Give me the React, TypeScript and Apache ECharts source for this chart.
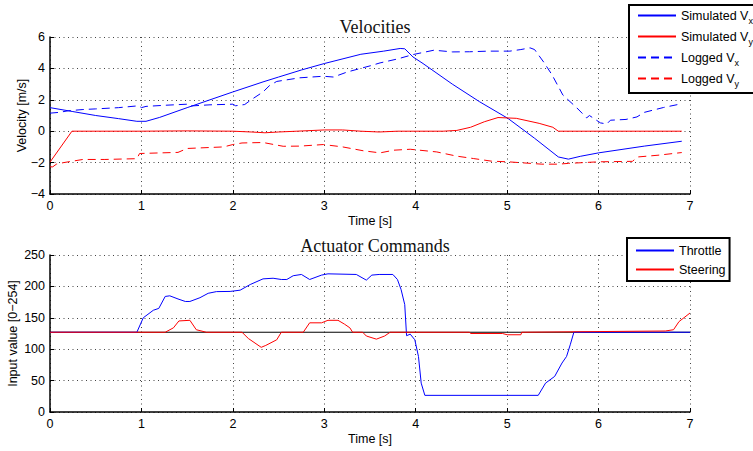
import React, { useEffect, useRef } from "react";
import * as echarts from "echarts";

// ---- Velocities (top) ----
const simVxT = [0, 0.25, 0.5, 0.75, 0.95, 1.05, 1.2, 1.5, 1.75, 2.0, 2.33, 2.5, 2.75, 3.0, 3.4, 3.65, 3.83, 3.88, 3.97, 4.08, 4.4, 4.7, 5.01, 5.3, 5.56, 5.67, 5.8, 6.0, 6.5, 6.91];
const simVxV = [1.5, 1.25, 1.0, 0.8, 0.63, 0.63, 0.88, 1.5, 2.0, 2.5, 3.14, 3.45, 3.9, 4.31, 4.9, 5.1, 5.27, 5.25, 4.73, 4.31, 3.0, 1.87, 0.81, -0.45, -1.64, -1.78, -1.6, -1.38, -0.95, -0.64];

const simVyT = [0, 0.24, 1.0, 1.5, 2.0, 2.2, 2.35, 2.5, 2.7, 3.0, 3.2, 3.4, 3.6, 3.8, 4.3, 4.45, 4.6, 4.75, 4.9, 5.1, 5.35, 5.5, 5.56, 6.91];
const simVyV = [-1.97, 0, 0, 0.02, 0, -0.05, -0.1, -0.05, 0, 0.08, 0.08, 0, -0.05, 0, 0, 0.05, 0.25, 0.6, 0.87, 0.82, 0.5, 0.25, 0, 0];

const logVxT = [0, 0.1, 0.2, 0.36, 0.5, 0.75, 0.97, 1.0, 1.05, 1.25, 1.5, 1.52, 1.75, 2.0, 2.03, 2.13, 2.2, 2.33, 2.4, 2.48, 2.73, 2.99, 3.1, 3.25, 3.5, 3.61, 3.8, 3.97, 4.2, 4.4, 4.59, 4.8, 5.03, 5.15, 5.25, 5.3, 5.4, 5.49, 5.61, 5.76, 5.87, 5.9, 6.02, 6.09, 6.13, 6.3, 6.42, 6.5, 6.71, 6.91];
const logVxV = [1.15, 1.2, 1.3, 1.38, 1.42, 1.5, 1.62, 1.5, 1.58, 1.65, 1.72, 1.6, 1.68, 1.72, 1.62, 1.7, 2.0, 2.5, 2.9, 3.17, 3.4, 3.5, 3.45, 3.77, 4.16, 4.35, 4.6, 4.88, 5.16, 5.05, 5.06, 5.1, 5.1, 5.2, 5.31, 5.2, 4.4, 3.6, 2.3, 1.5, 0.85, 1.0, 0.53, 0.46, 0.7, 0.75, 0.91, 1.2, 1.51, 1.75];

const logVyT = [0, 0.03, 0.07, 0.15, 0.36, 0.6, 0.95, 0.98, 1.4, 1.5, 1.9, 2.0, 2.1, 2.33, 2.55, 2.73, 2.99, 3.2, 3.43, 3.61, 3.76, 3.94, 4.23, 4.45, 4.63, 4.83, 5.01, 5.38, 5.56, 5.67, 6.0, 6.37, 6.43, 6.65, 6.91];
const logVyV = [-2.27, -2.27, -2.1, -2.0, -1.8, -1.8, -1.75, -1.42, -1.35, -1.1, -1.0, -0.85, -0.75, -0.72, -0.96, -0.95, -0.85, -1.0, -1.25, -1.38, -1.21, -1.15, -1.32, -1.59, -1.74, -1.91, -1.95, -2.1, -2.1, -2.05, -1.95, -1.92, -1.64, -1.53, -1.36];

// ---- Actuator Commands (bottom) ----
const throttleT = [0, 0.95, 1.02, 1.13, 1.19, 1.26, 1.31, 1.4, 1.48, 1.53, 1.64, 1.73, 1.82, 1.97, 2.08, 2.19, 2.33, 2.44, 2.53, 2.59, 2.66, 2.75, 2.84, 2.97, 3.04, 3.35, 3.46, 3.52, 3.6, 3.75, 3.8, 3.84, 3.88, 3.9, 3.94, 3.99, 4.03, 4.06, 4.1, 5.34, 5.42, 5.52, 5.6, 5.65, 5.69, 5.73, 7.0];
const throttleV = [127, 127, 150, 162, 165, 184, 185, 180, 176, 176, 182, 189, 191.7, 192, 194, 203, 212, 213, 211, 211, 217, 219, 211, 218, 220, 219, 210, 218, 219, 219, 211, 195, 171, 121.5, 124, 115, 88.5, 46, 26.5, 26.5, 46, 56.7, 78, 88.5, 107, 127, 127];

const steeringT = [0, 1.26, 1.35, 1.41, 1.53, 1.6, 1.71, 2.1, 2.17, 2.31, 2.36, 2.48, 2.53, 2.77, 2.84, 2.97, 3.04, 3.15, 3.22, 3.28, 3.31, 3.42, 3.46, 3.57, 3.66, 3.72, 4.59, 4.6, 4.95, 5.0, 5.15, 5.16, 6.73, 6.82, 6.88, 7.0];
const steeringV = [127, 127, 134, 145, 146, 131, 127, 127, 117, 103, 106, 115, 127, 127, 142, 142, 146, 146, 140, 134, 127, 127, 121, 116, 121, 127, 127, 125, 125, 123, 123, 127, 129, 131, 144, 157.6];

const neutralT = [0, 7];
const neutralV = [127, 127];

const topSeriesNames = ["Simulated Vx", "Simulated Vy", "Logged Vx", "Logged Vy"];
const bottomSeriesNames = ["Throttle", "Steering"];
const titles = ["Velocities", "Actuator Commands"];

const pairs = (t: number[], v: number[]) => t.map((x, i) => [x, v[i]]);

const SANS = "Liberation Sans, Arial, sans-serif";
const SERIF = "Liberation Serif, DejaVu Serif, serif";

const minusFmt = (v: number) => (v < 0 ? "\u2212" + Math.abs(v) : String(v));

function makeXAxis(gridIndex: number) {
  return {
    gridIndex,
    type: "value",
    min: 0,
    max: 7,
    interval: 1,
    name: "Time [s]",
    nameLocation: "middle",
    nameGap: 20,
    nameMoveOverlap: false,
    nameTextStyle: { fontFamily: SANS, fontSize: 12.5, color: "#000" },
    axisLine: { show: true, onZero: false, lineStyle: { color: "#000", width: 1.5 } },
    axisTick: { show: true, inside: true, length: 4, lineStyle: { color: "#000", width: 1 } },
    axisLabel: { fontFamily: SANS, fontSize: 12.5, color: "#000", margin: 5 },
    splitLine: { show: true, lineStyle: { type: [1, 3.5], color: "#444", width: 1 } },
  };
}

function makeYAxis(gridIndex: number, min: number, max: number, interval: number, name: string, nameGap: number) {
  return {
    gridIndex,
    type: "value",
    min,
    max,
    interval,
    name,
    nameLocation: "middle",
    nameGap,
    nameMoveOverlap: false,
    nameTextStyle: { fontFamily: SANS, fontSize: 12.5, color: "#000" },
    axisLine: { show: true, onZero: false, lineStyle: { color: "#000", width: 1.5 } },
    axisTick: { show: true, inside: true, length: 4, lineStyle: { color: "#000", width: 1 } },
    axisLabel: { fontFamily: SANS, fontSize: 12.5, color: "#000", margin: 5, formatter: minusFmt },
    splitLine: { show: true, lineStyle: { type: [1, 3.5], color: "#444", width: 1 } },
  };
}

const subFmt = (name: string) => {
  const m = name.match(/^(.*V)([xy])$/);
  return m ? `${m[1]}{sub|${m[2]}}` : name;
};

const hiddenSymbol = { color: "transparent", borderColor: "transparent", borderWidth: 0, opacity: 0 };

export default function App() {
  const ref = useRef<HTMLDivElement>(null);
  useEffect(() => {
    if (!ref.current) return;
    const chart = echarts.init(ref.current, undefined, { renderer: "svg" });
    const dash = [8, 5];
    const option: any = {
      animation: false,
      backgroundColor: "#fff",
      title: [
        { text: titles[0], left: 370, top: 13, textAlign: "center", textStyle: { fontFamily: SERIF, fontSize: 18, fontWeight: "normal", color: "#111" } },
        { text: titles[1], left: 370, top: 232, textAlign: "center", textStyle: { fontFamily: SERIF, fontSize: 18, fontWeight: "normal", color: "#111" } },
      ],
      grid: [
        { left: 50, top: 37, width: 640, height: 157, outerBoundsMode: "none", containLabel: false },
        { left: 50, top: 255, width: 640, height: 157, outerBoundsMode: "none", containLabel: false },
      ],
      xAxis: [makeXAxis(0), makeXAxis(1)],
      yAxis: [
        makeYAxis(0, -4, 6, 2, "Velocity [m/s]", 22),
        makeYAxis(1, 0, 250, 50, "Input value [0\u2212254]", 31),
      ],
      legend: [
        {
          data: topSeriesNames,
          left: 629,
          top: 5,
          orient: "vertical",
          itemWidth: 38,
          itemHeight: 14,
          itemGap: 5,
          padding: [4, 20, 5, 8],
          borderColor: "#000",
          borderWidth: 2,
          backgroundColor: "#fff",
          formatter: subFmt,
          selectedMode: false,
          itemStyle: hiddenSymbol,
          textStyle: {
            fontFamily: SANS,
            fontSize: 12.5,
            color: "#000",
            rich: { sub: { fontFamily: SANS, fontSize: 9, color: "#000", padding: [10, 0, 0, 0] } },
          },
        },
        {
          data: bottomSeriesNames,
          left: 627,
          top: 238,
          orient: "vertical",
          itemWidth: 38,
          itemHeight: 12,
          itemGap: 6,
          padding: [6, 4, 5, 8],
          borderColor: "#000",
          borderWidth: 2,
          backgroundColor: "#fff",
          selectedMode: false,
          itemStyle: hiddenSymbol,
          textStyle: { fontFamily: SANS, fontSize: 12.5, color: "#000" },
        },
      ],
      series: [
        { name: topSeriesNames[0], type: "line", xAxisIndex: 0, yAxisIndex: 0, symbol: "none", showSymbol: false, data: pairs(simVxT, simVxV), lineStyle: { color: "#0000ff", width: 1 }, itemStyle: { color: "#0000ff" } },
        { name: topSeriesNames[1], type: "line", xAxisIndex: 0, yAxisIndex: 0, symbol: "none", showSymbol: false, data: pairs(simVyT, simVyV), lineStyle: { color: "#ff0000", width: 1 }, itemStyle: { color: "#ff0000" } },
        { name: topSeriesNames[2], type: "line", xAxisIndex: 0, yAxisIndex: 0, symbol: "none", showSymbol: false, data: pairs(logVxT, logVxV), lineStyle: { color: "#0000ff", width: 1, type: dash }, itemStyle: { color: "#0000ff" } },
        { name: topSeriesNames[3], type: "line", xAxisIndex: 0, yAxisIndex: 0, symbol: "none", showSymbol: false, data: pairs(logVyT, logVyV), lineStyle: { color: "#ff0000", width: 1, type: dash }, itemStyle: { color: "#ff0000" } },
        { name: "Neutral", type: "line", xAxisIndex: 1, yAxisIndex: 1, symbol: "none", showSymbol: false, data: pairs(neutralT, neutralV), lineStyle: { color: "#000", width: 1 }, itemStyle: { color: "#000" }, silent: true },
        { name: bottomSeriesNames[0], type: "line", xAxisIndex: 1, yAxisIndex: 1, symbol: "none", showSymbol: false, data: pairs(throttleT, throttleV), lineStyle: { color: "#0000ff", width: 1 }, itemStyle: { color: "#0000ff" } },
        { name: bottomSeriesNames[1], type: "line", xAxisIndex: 1, yAxisIndex: 1, symbol: "none", showSymbol: false, data: pairs(steeringT, steeringV), lineStyle: { color: "#ff0000", width: 1 }, itemStyle: { color: "#ff0000" } },
      ],
    };
    chart.setOption(option);
    return () => chart.dispose();
  }, []);
  return <div ref={ref} style={{ position: "fixed", left: 0, top: 0, width: 753, height: 451 }} />;
}
